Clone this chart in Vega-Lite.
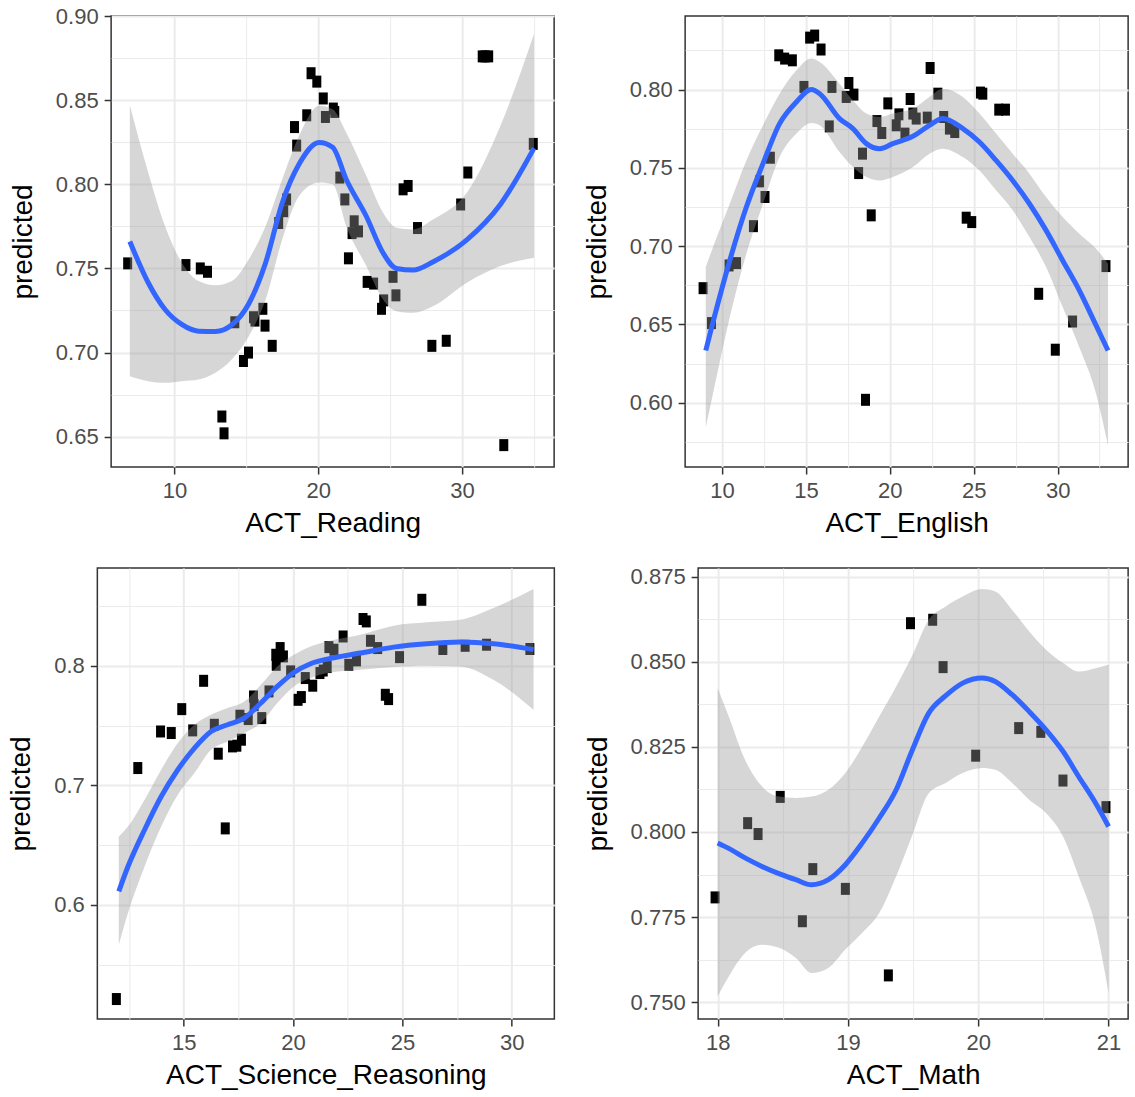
{
  "$schema": "https://vega.github.io/schema/vega-lite/v6.json",
  "padding": {"left": 7, "top": 4, "right": 5, "bottom": 5},
  "config": {
    "font": "Liberation Sans",
    "view": {"stroke": "#333333", "strokeWidth": 1.5},
    "axis": {
      "domain": false,
      "labelFont": "Liberation Sans", "labelFontSize": 22, "labelColor": "#4D4D4D", "labelPadding": 6,
      "labelOverlap": false, "labelFlush": false,
      "titleFont": "Liberation Sans", "titleFontSize": 28, "titleFontWeight": "normal", "titleColor": "#000000",
      "tickColor": "#333333", "tickWidth": 1.5, "tickSize": 7,
      "gridColor": "#EBEBEB"
    },
    "axisX": {"titlePadding": 8},
    "axisY": {"titlePadding": 18}
  },
  "datasets": {
    "reading_points": [
      {"score": 6.75, "predicted": 0.753}, {"score": 10.8, "predicted": 0.752}, {"score": 11.8, "predicted": 0.750},
      {"score": 12.3, "predicted": 0.748}, {"score": 13.3, "predicted": 0.662}, {"score": 13.45, "predicted": 0.652},
      {"score": 14.2, "predicted": 0.718}, {"score": 14.8, "predicted": 0.695}, {"score": 15.15, "predicted": 0.700},
      {"score": 15.5, "predicted": 0.721}, {"score": 15.6, "predicted": 0.719}, {"score": 16.15, "predicted": 0.726},
      {"score": 16.3, "predicted": 0.716}, {"score": 16.8, "predicted": 0.704}, {"score": 17.25, "predicted": 0.777},
      {"score": 17.6, "predicted": 0.784}, {"score": 17.8, "predicted": 0.791}, {"score": 18.35, "predicted": 0.834},
      {"score": 18.5, "predicted": 0.823}, {"score": 19.2, "predicted": 0.841}, {"score": 19.5, "predicted": 0.866},
      {"score": 19.9, "predicted": 0.861}, {"score": 20.35, "predicted": 0.851}, {"score": 20.5, "predicted": 0.840},
      {"score": 21.05, "predicted": 0.845}, {"score": 21.15, "predicted": 0.843}, {"score": 21.5, "predicted": 0.804},
      {"score": 21.85, "predicted": 0.791}, {"score": 22.1, "predicted": 0.756}, {"score": 22.35, "predicted": 0.771},
      {"score": 22.5, "predicted": 0.778}, {"score": 22.8, "predicted": 0.772}, {"score": 23.4, "predicted": 0.742},
      {"score": 23.85, "predicted": 0.741}, {"score": 24.4, "predicted": 0.726}, {"score": 24.55, "predicted": 0.731},
      {"score": 25.2, "predicted": 0.745}, {"score": 25.4, "predicted": 0.734}, {"score": 25.9, "predicted": 0.797},
      {"score": 26.25, "predicted": 0.799}, {"score": 26.9, "predicted": 0.774}, {"score": 27.9, "predicted": 0.704},
      {"score": 28.9, "predicted": 0.707}, {"score": 29.9, "predicted": 0.788}, {"score": 30.4, "predicted": 0.807},
      {"score": 31.4, "predicted": 0.876}, {"score": 31.6, "predicted": 0.876}, {"score": 31.85, "predicted": 0.876},
      {"score": 32.9, "predicted": 0.645}, {"score": 34.95, "predicted": 0.824}
    ],
    "reading_fit": [
      {"score": 6.9, "predicted": 0.766, "lower": 0.686, "upper": 0.847},
      {"score": 8.18, "predicted": 0.7415, "lower": 0.683, "upper": 0.807},
      {"score": 9.35, "predicted": 0.7256, "lower": 0.682, "upper": 0.775},
      {"score": 10.51, "predicted": 0.7167, "lower": 0.683, "upper": 0.7534},
      {"score": 11.68, "predicted": 0.7127, "lower": 0.684, "upper": 0.7425},
      {"score": 12.85, "predicted": 0.7125, "lower": 0.688, "upper": 0.740},
      {"score": 14.0, "predicted": 0.7165, "lower": 0.696, "upper": 0.7425},
      {"score": 15.17, "predicted": 0.729, "lower": 0.7097, "upper": 0.7554},
      {"score": 16.34, "predicted": 0.7534, "lower": 0.7315, "upper": 0.7752},
      {"score": 17.5, "predicted": 0.789, "lower": 0.7673, "upper": 0.803},
      {"score": 18.67, "predicted": 0.812, "lower": 0.793, "upper": 0.8288},
      {"score": 20.07, "predicted": 0.8248, "lower": 0.801, "upper": 0.8466},
      {"score": 21.0, "predicted": 0.822, "lower": 0.800, "upper": 0.8446},
      {"score": 21.94, "predicted": 0.803, "lower": 0.7752, "upper": 0.8308},
      {"score": 23.34, "predicted": 0.781, "lower": 0.7514, "upper": 0.805},
      {"score": 24.5, "predicted": 0.7593, "lower": 0.7315, "upper": 0.7832},
      {"score": 25.43, "predicted": 0.750, "lower": 0.7246, "upper": 0.7742},
      {"score": 26.6, "predicted": 0.749, "lower": 0.7236, "upper": 0.7732},
      {"score": 28.0, "predicted": 0.754, "lower": 0.7276, "upper": 0.7792},
      {"score": 30.33, "predicted": 0.767, "lower": 0.7415, "upper": 0.795},
      {"score": 32.66, "predicted": 0.788, "lower": 0.7514, "upper": 0.8347},
      {"score": 35.0, "predicted": 0.8215, "lower": 0.7564, "upper": 0.8893}
    ],
    "english_points": [
      {"score": 8.87, "predicted": 0.6732}, {"score": 9.37, "predicted": 0.6509}, {"score": 10.42, "predicted": 0.6877},
      {"score": 10.86, "predicted": 0.6892}, {"score": 11.87, "predicted": 0.7128}, {"score": 12.23, "predicted": 0.7414},
      {"score": 12.56, "predicted": 0.7314}, {"score": 12.88, "predicted": 0.7565}, {"score": 13.38, "predicted": 0.8219},
      {"score": 13.73, "predicted": 0.8198}, {"score": 14.19, "predicted": 0.8187}, {"score": 14.88, "predicted": 0.8017},
      {"score": 15.22, "predicted": 0.8332}, {"score": 15.52, "predicted": 0.8345}, {"score": 15.9, "predicted": 0.8256},
      {"score": 16.39, "predicted": 0.7765}, {"score": 16.55, "predicted": 0.8017}, {"score": 17.4, "predicted": 0.7953},
      {"score": 17.56, "predicted": 0.8042}, {"score": 17.86, "predicted": 0.7968}, {"score": 18.14, "predicted": 0.7467},
      {"score": 18.37, "predicted": 0.7591}, {"score": 18.55, "predicted": 0.6019}, {"score": 18.89, "predicted": 0.7197},
      {"score": 19.23, "predicted": 0.7799}, {"score": 19.52, "predicted": 0.7723}, {"score": 19.88, "predicted": 0.7912},
      {"score": 20.38, "predicted": 0.7772}, {"score": 20.54, "predicted": 0.7842}, {"score": 20.9, "predicted": 0.7719},
      {"score": 21.21, "predicted": 0.794}, {"score": 21.37, "predicted": 0.7847}, {"score": 21.57, "predicted": 0.7815},
      {"score": 22.23, "predicted": 0.7821}, {"score": 22.4, "predicted": 0.8138}, {"score": 22.86, "predicted": 0.7974},
      {"score": 23.21, "predicted": 0.7825}, {"score": 23.55, "predicted": 0.7751}, {"score": 23.87, "predicted": 0.7729},
      {"score": 24.55, "predicted": 0.7182}, {"score": 24.88, "predicted": 0.7154}, {"score": 25.4, "predicted": 0.7981},
      {"score": 25.54, "predicted": 0.7974}, {"score": 26.49, "predicted": 0.7872}, {"score": 26.89, "predicted": 0.7872},
      {"score": 28.87, "predicted": 0.6696}, {"score": 29.86, "predicted": 0.6339}, {"score": 30.89, "predicted": 0.6519},
      {"score": 32.88, "predicted": 0.6873}
    ],
    "english_fit": [
      {"score": 9.03, "predicted": 0.6334, "lower": 0.5844, "upper": 0.6867},
      {"score": 9.46, "predicted": 0.6515, "lower": 0.6058, "upper": 0.6994},
      {"score": 10.46, "predicted": 0.6909, "lower": 0.6547, "upper": 0.7271},
      {"score": 11.45, "predicted": 0.725, "lower": 0.6952, "upper": 0.7548},
      {"score": 12.44, "predicted": 0.7527, "lower": 0.7271, "upper": 0.7772},
      {"score": 13.43, "predicted": 0.7783, "lower": 0.7569, "upper": 0.7974},
      {"score": 14.43, "predicted": 0.7921, "lower": 0.7719, "upper": 0.8123},
      {"score": 15.32, "predicted": 0.800, "lower": 0.7787, "upper": 0.8198},
      {"score": 15.82, "predicted": 0.7974, "lower": 0.7772, "upper": 0.8176},
      {"score": 17.0, "predicted": 0.7815, "lower": 0.7601, "upper": 0.8038},
      {"score": 17.8, "predicted": 0.7751, "lower": 0.7505, "upper": 0.7932},
      {"score": 18.6, "predicted": 0.7655, "lower": 0.7442, "upper": 0.7847},
      {"score": 19.39, "predicted": 0.7623, "lower": 0.742, "upper": 0.7825},
      {"score": 20.18, "predicted": 0.7655, "lower": 0.7442, "upper": 0.7847},
      {"score": 21.37, "predicted": 0.7702, "lower": 0.7505, "upper": 0.7879},
      {"score": 22.36, "predicted": 0.7772, "lower": 0.7591, "upper": 0.7953},
      {"score": 23.15, "predicted": 0.7815, "lower": 0.7623, "upper": 0.8006},
      {"score": 24.35, "predicted": 0.7751, "lower": 0.7569, "upper": 0.7953},
      {"score": 25.34, "predicted": 0.7665, "lower": 0.7484, "upper": 0.7847},
      {"score": 26.33, "predicted": 0.7548, "lower": 0.7357, "upper": 0.7719},
      {"score": 27.32, "predicted": 0.742, "lower": 0.7229, "upper": 0.7591},
      {"score": 28.32, "predicted": 0.7271, "lower": 0.7058, "upper": 0.7463},
      {"score": 29.31, "predicted": 0.7101, "lower": 0.6867, "upper": 0.7314},
      {"score": 30.3, "predicted": 0.6909, "lower": 0.6611, "upper": 0.7186},
      {"score": 31.29, "predicted": 0.6718, "lower": 0.6355, "upper": 0.708},
      {"score": 32.29, "predicted": 0.6494, "lower": 0.6058, "upper": 0.6984},
      {"score": 33.0, "predicted": 0.6334, "lower": 0.5727, "upper": 0.6888}
    ],
    "science_points": [
      {"score": 11.92, "predicted": 0.5211}, {"score": 12.9, "predicted": 0.7144}, {"score": 13.94, "predicted": 0.745},
      {"score": 14.43, "predicted": 0.7437}, {"score": 14.91, "predicted": 0.7637}, {"score": 15.41, "predicted": 0.7459},
      {"score": 15.91, "predicted": 0.7874}, {"score": 16.4, "predicted": 0.7506}, {"score": 16.58, "predicted": 0.7264},
      {"score": 16.9, "predicted": 0.6639}, {"score": 17.23, "predicted": 0.7325}, {"score": 17.43, "predicted": 0.7331},
      {"score": 17.64, "predicted": 0.7381}, {"score": 17.57, "predicted": 0.7582}, {"score": 17.95, "predicted": 0.7554},
      {"score": 18.19, "predicted": 0.7743}, {"score": 18.22, "predicted": 0.767}, {"score": 18.57, "predicted": 0.7562},
      {"score": 18.9, "predicted": 0.7785}, {"score": 19.21, "predicted": 0.8092}, {"score": 19.41, "predicted": 0.8148},
      {"score": 19.23, "predicted": 0.8008}, {"score": 19.56, "predicted": 0.8078}, {"score": 19.89, "predicted": 0.7953},
      {"score": 20.23, "predicted": 0.7715}, {"score": 20.38, "predicted": 0.7738}, {"score": 20.56, "predicted": 0.7897},
      {"score": 20.9, "predicted": 0.7833}, {"score": 21.23, "predicted": 0.7939}, {"score": 21.38, "predicted": 0.796},
      {"score": 21.56, "predicted": 0.7989}, {"score": 21.64, "predicted": 0.8156}, {"score": 21.87, "predicted": 0.8134},
      {"score": 22.29, "predicted": 0.8245}, {"score": 22.55, "predicted": 0.8008}, {"score": 22.9, "predicted": 0.8045},
      {"score": 23.2, "predicted": 0.8391}, {"score": 23.35, "predicted": 0.8371}, {"score": 23.54, "predicted": 0.8209},
      {"score": 23.87, "predicted": 0.8148}, {"score": 24.22, "predicted": 0.7757}, {"score": 24.37, "predicted": 0.7721},
      {"score": 24.87, "predicted": 0.8072}, {"score": 25.89, "predicted": 0.8552}, {"score": 26.85, "predicted": 0.814},
      {"score": 27.87, "predicted": 0.8167}, {"score": 28.85, "predicted": 0.8176}, {"score": 30.83, "predicted": 0.814}
    ],
    "science_fit": [
      {"score": 12.03, "predicted": 0.6112, "lower": 0.5665, "upper": 0.6572},
      {"score": 12.45, "predicted": 0.632, "lower": 0.593, "upper": 0.6655},
      {"score": 13.21, "predicted": 0.6628, "lower": 0.632, "upper": 0.6879},
      {"score": 13.97, "predicted": 0.6906, "lower": 0.6655, "upper": 0.713},
      {"score": 14.73, "predicted": 0.713, "lower": 0.692, "upper": 0.7353},
      {"score": 15.49, "predicted": 0.7311, "lower": 0.7102, "upper": 0.7506},
      {"score": 16.25, "predicted": 0.745, "lower": 0.7297, "upper": 0.759},
      {"score": 17.0, "predicted": 0.7506, "lower": 0.7367, "upper": 0.7646},
      {"score": 17.77, "predicted": 0.7562, "lower": 0.7437, "upper": 0.7701},
      {"score": 18.53, "predicted": 0.7688, "lower": 0.752, "upper": 0.7841},
      {"score": 19.28, "predicted": 0.7827, "lower": 0.7688, "upper": 0.7994},
      {"score": 20.04, "predicted": 0.7944, "lower": 0.7827, "upper": 0.8092},
      {"score": 20.8, "predicted": 0.8017, "lower": 0.7897, "upper": 0.8162},
      {"score": 21.56, "predicted": 0.8056, "lower": 0.7939, "upper": 0.8203},
      {"score": 23.08, "predicted": 0.8106, "lower": 0.7967, "upper": 0.8259},
      {"score": 24.6, "predicted": 0.8156, "lower": 0.7989, "upper": 0.8335},
      {"score": 26.12, "predicted": 0.8184, "lower": 0.800, "upper": 0.8363},
      {"score": 27.64, "predicted": 0.8198, "lower": 0.7994, "upper": 0.8385},
      {"score": 29.16, "predicted": 0.8184, "lower": 0.7883, "upper": 0.8483},
      {"score": 31.0, "predicted": 0.8135, "lower": 0.7632, "upper": 0.8642}
    ],
    "math_points": [
      {"score": 17.98, "predicted": 0.7808}, {"score": 18.23, "predicted": 0.8026}, {"score": 18.31, "predicted": 0.7994},
      {"score": 18.48, "predicted": 0.8103}, {"score": 18.65, "predicted": 0.7738}, {"score": 18.73, "predicted": 0.7891},
      {"score": 18.98, "predicted": 0.7833}, {"score": 19.31, "predicted": 0.7579}, {"score": 19.48, "predicted": 0.8613},
      {"score": 19.65, "predicted": 0.8623}, {"score": 19.73, "predicted": 0.8484}, {"score": 19.98, "predicted": 0.8224},
      {"score": 20.31, "predicted": 0.8305}, {"score": 20.48, "predicted": 0.8294}, {"score": 20.65, "predicted": 0.8151},
      {"score": 20.98, "predicted": 0.8073}
    ],
    "math_fit": [
      {"score": 18.0, "predicted": 0.7968, "lower": 0.7518, "upper": 0.8423},
      {"score": 18.085, "predicted": 0.7952, "lower": 0.7576, "upper": 0.8339},
      {"score": 18.21, "predicted": 0.7924, "lower": 0.7645, "upper": 0.8212},
      {"score": 18.34, "predicted": 0.7899, "lower": 0.7669, "upper": 0.8134},
      {"score": 18.47, "predicted": 0.7878, "lower": 0.766, "upper": 0.8104},
      {"score": 18.6, "predicted": 0.786, "lower": 0.763, "upper": 0.81},
      {"score": 18.72, "predicted": 0.7845, "lower": 0.7586, "upper": 0.8104},
      {"score": 18.85, "predicted": 0.786, "lower": 0.7601, "upper": 0.8124},
      {"score": 18.98, "predicted": 0.7904, "lower": 0.7655, "upper": 0.8173},
      {"score": 19.11, "predicted": 0.7968, "lower": 0.7704, "upper": 0.8251},
      {"score": 19.24, "predicted": 0.8041, "lower": 0.7762, "upper": 0.8339},
      {"score": 19.37, "predicted": 0.8124, "lower": 0.787, "upper": 0.8427},
      {"score": 19.49, "predicted": 0.8237, "lower": 0.7987, "upper": 0.8515},
      {"score": 19.62, "predicted": 0.8349, "lower": 0.8114, "upper": 0.8623},
      {"score": 19.75, "predicted": 0.840, "lower": 0.8144, "upper": 0.8662},
      {"score": 19.88, "predicted": 0.8437, "lower": 0.8173, "upper": 0.8691},
      {"score": 20.03, "predicted": 0.8452, "lower": 0.8188, "upper": 0.8713},
      {"score": 20.13, "predicted": 0.8442, "lower": 0.8183, "upper": 0.8706},
      {"score": 20.26, "predicted": 0.8403, "lower": 0.8144, "upper": 0.8652},
      {"score": 20.39, "predicted": 0.8354, "lower": 0.8095, "upper": 0.8589},
      {"score": 20.52, "predicted": 0.830, "lower": 0.8056, "upper": 0.8535},
      {"score": 20.65, "predicted": 0.8237, "lower": 0.7987, "upper": 0.8496},
      {"score": 20.77, "predicted": 0.8163, "lower": 0.787, "upper": 0.8471},
      {"score": 20.9, "predicted": 0.8085, "lower": 0.7723, "upper": 0.8481},
      {"score": 21.0, "predicted": 0.8016, "lower": 0.7528, "upper": 0.8491}
    ]
  },
  "spacing": 13,
  "hconcat": [
    {
      "center": true,
      "spacing": 29,
      "vconcat": [
        {
          "width": 443, "height": 451,
          "encoding": {
            "x": {"field": "score", "type": "quantitative", "title": "ACT_Reading",
              "scale": {"domain": [5.6, 36.4], "nice": false, "zero": false},
              "axis": {"values": [10, 15, 20, 25, 30, 35], "format": ".0f",
                "labelExpr": "datum.value % 10 === 0 ? datum.label : ''",
                "gridWidth": {"condition": {"test": "datum.value % 10 === 0", "value": 2}, "value": 1},
                "tickOpacity": {"condition": {"test": "datum.value % 10 === 0", "value": 1}, "value": 0}}},
            "y": {"field": "predicted", "type": "quantitative", "title": "predicted",
              "scale": {"domain": [0.632, 0.9], "nice": false, "zero": false},
              "axis": {"values": [0.65, 0.675, 0.7, 0.725, 0.75, 0.775, 0.8, 0.825, 0.85, 0.875, 0.9], "format": ".2f",
                "labelExpr": "abs(datum.value * 20 - round(datum.value * 20)) < 0.001 ? datum.label : ''",
                "gridWidth": {"condition": {"test": "abs(datum.value * 20 - round(datum.value * 20)) < 0.001", "value": 2}, "value": 1},
                "tickOpacity": {"condition": {"test": "abs(datum.value * 20 - round(datum.value * 20)) < 0.001", "value": 1}, "value": 0}}}
          },
          "layer": [
            {"data": {"name": "reading_points"},
              "mark": {"type": "point", "shape": "M-0.75,-1H0.75V1H-0.75Z", "filled": true, "size": 144, "color": "#000000", "opacity": 1}},
            {"data": {"name": "reading_fit"},
              "mark": {"type": "area", "color": "#999999", "opacity": 0.4, "interpolate": "monotone"},
              "encoding": {"y": {"field": "lower", "type": "quantitative", "title": "predicted"}, "y2": {"field": "upper"}}},
            {"data": {"name": "reading_fit"},
              "mark": {"type": "line", "color": "#3366FF", "strokeWidth": 5, "strokeCap": "butt", "interpolate": "monotone"}}
          ]
        },
        {
          "width": 457, "height": 451,
          "encoding": {
            "x": {"field": "score", "type": "quantitative", "title": "ACT_Science_Reasoning",
              "scale": {"domain": [11.05, 31.95], "nice": false, "zero": false},
              "axis": {"values": [12.5, 15, 17.5, 20, 22.5, 25, 27.5, 30, 31.95], "format": ".0f",
                "labelExpr": "datum.value % 5 === 0 ? datum.label : (datum.value > 31 ? '00' : '')",
                "labelAlign": {"condition": {"test": "datum.value > 31", "value": "left"}, "value": "center"},
                "labelFontSize": {"condition": {"test": "datum.value > 31", "value": 12.2}, "value": 22},
                "labelOpacity": {"condition": {"test": "datum.value > 31", "value": 0}, "value": 1},
                "gridOpacity": {"condition": {"test": "datum.value > 31", "value": 0}, "value": 1},
                "gridWidth": {"condition": {"test": "datum.value % 5 === 0", "value": 2}, "value": 1},
                "tickOpacity": {"condition": {"test": "datum.value % 5 === 0", "value": 1}, "value": 0}}},
            "y": {"field": "predicted", "type": "quantitative", "title": "predicted",
              "scale": {"domain": [0.5044, 0.8818], "nice": false, "zero": false},
              "axis": {"values": [0.55, 0.6, 0.65, 0.7, 0.75, 0.8, 0.85], "format": ".1f",
                "labelExpr": "abs(datum.value * 10 - round(datum.value * 10)) < 0.001 ? datum.label : ''",
                "gridWidth": {"condition": {"test": "abs(datum.value * 10 - round(datum.value * 10)) < 0.001", "value": 2}, "value": 1},
                "tickOpacity": {"condition": {"test": "abs(datum.value * 10 - round(datum.value * 10)) < 0.001", "value": 1}, "value": 0}}}
          },
          "layer": [
            {"data": {"name": "science_points"},
              "mark": {"type": "point", "shape": "M-0.75,-1H0.75V1H-0.75Z", "filled": true, "size": 144, "color": "#000000", "opacity": 1}},
            {"data": {"name": "science_fit"},
              "mark": {"type": "area", "color": "#999999", "opacity": 0.4, "interpolate": "monotone"},
              "encoding": {"y": {"field": "lower", "type": "quantitative", "title": "predicted"}, "y2": {"field": "upper"}}},
            {"data": {"name": "science_fit"},
              "mark": {"type": "line", "color": "#3366FF", "strokeWidth": 5, "strokeCap": "butt", "interpolate": "monotone"}}
          ]
        }
      ]
    },
    {
      "center": true,
      "spacing": 26,
      "vconcat": [
        {
          "width": 443, "height": 451,
          "encoding": {
            "x": {"field": "score", "type": "quantitative", "title": "ACT_English",
              "scale": {"domain": [7.8, 34.2], "nice": false, "zero": false},
              "axis": {"values": [10, 12.5, 15, 17.5, 20, 22.5, 25, 27.5, 30, 32.5, 34.2], "format": ".0f",
                "labelExpr": "datum.value % 5 === 0 ? datum.label : (datum.value > 34 ? '00' : '')",
                "labelAlign": {"condition": {"test": "datum.value > 34", "value": "left"}, "value": "center"},
                "labelFontSize": {"condition": {"test": "datum.value > 34", "value": 11.7}, "value": 22},
                "labelOpacity": {"condition": {"test": "datum.value > 34", "value": 0}, "value": 1},
                "gridOpacity": {"condition": {"test": "datum.value > 34", "value": 0}, "value": 1},
                "gridWidth": {"condition": {"test": "datum.value % 5 === 0", "value": 2}, "value": 1},
                "tickOpacity": {"condition": {"test": "datum.value % 5 === 0", "value": 1}, "value": 0}}},
            "y": {"field": "predicted", "type": "quantitative", "title": "predicted",
              "scale": {"domain": [0.559, 0.847], "nice": false, "zero": false},
              "axis": {"values": [0.575, 0.6, 0.625, 0.65, 0.675, 0.7, 0.725, 0.75, 0.775, 0.8, 0.825], "format": ".2f",
                "labelExpr": "abs(datum.value * 20 - round(datum.value * 20)) < 0.001 ? datum.label : ''",
                "gridWidth": {"condition": {"test": "abs(datum.value * 20 - round(datum.value * 20)) < 0.001", "value": 2}, "value": 1},
                "tickOpacity": {"condition": {"test": "abs(datum.value * 20 - round(datum.value * 20)) < 0.001", "value": 1}, "value": 0}}}
          },
          "layer": [
            {"data": {"name": "english_points"},
              "mark": {"type": "point", "shape": "M-0.75,-1H0.75V1H-0.75Z", "filled": true, "size": 144, "color": "#000000", "opacity": 1}},
            {"data": {"name": "english_fit"},
              "mark": {"type": "area", "color": "#999999", "opacity": 0.4, "interpolate": "monotone"},
              "encoding": {"y": {"field": "lower", "type": "quantitative", "title": "predicted"}, "y2": {"field": "upper"}}},
            {"data": {"name": "english_fit"},
              "mark": {"type": "line", "color": "#3366FF", "strokeWidth": 5, "strokeCap": "butt", "interpolate": "monotone"}}
          ]
        },
        {
          "width": 430, "height": 451,
          "encoding": {
            "x": {"field": "score", "type": "quantitative", "title": "ACT_Math",
              "scale": {"domain": [17.85, 21.15], "nice": false, "zero": false},
              "axis": {"values": [18, 18.5, 19, 19.5, 20, 20.5, 21], "format": ".0f",
                "labelExpr": "datum.value % 1 === 0 ? datum.label : ''",
                "gridWidth": {"condition": {"test": "datum.value % 1 === 0", "value": 2}, "value": 1},
                "tickOpacity": {"condition": {"test": "datum.value % 1 === 0", "value": 1}, "value": 0}}},
            "y": {"field": "predicted", "type": "quantitative", "title": "predicted",
              "scale": {"domain": [0.7451, 0.8775], "nice": false, "zero": false},
              "axis": {"values": [0.75, 0.7625, 0.775, 0.7875, 0.8, 0.8125, 0.825, 0.8375, 0.85, 0.8625, 0.875], "format": ".3f",
                "labelExpr": "abs(datum.value * 40 - round(datum.value * 40)) < 0.001 ? datum.label : ''",
                "gridWidth": {"condition": {"test": "abs(datum.value * 40 - round(datum.value * 40)) < 0.001", "value": 2}, "value": 1},
                "tickOpacity": {"condition": {"test": "abs(datum.value * 40 - round(datum.value * 40)) < 0.001", "value": 1}, "value": 0}}}
          },
          "layer": [
            {"data": {"name": "math_points"},
              "mark": {"type": "point", "shape": "M-0.75,-1H0.75V1H-0.75Z", "filled": true, "size": 144, "color": "#000000", "opacity": 1}},
            {"data": {"name": "math_fit"},
              "mark": {"type": "area", "color": "#999999", "opacity": 0.4, "interpolate": "monotone"},
              "encoding": {"y": {"field": "lower", "type": "quantitative", "title": "predicted"}, "y2": {"field": "upper"}}},
            {"data": {"name": "math_fit"},
              "mark": {"type": "line", "color": "#3366FF", "strokeWidth": 5, "strokeCap": "butt", "interpolate": "monotone"}}
          ]
        }
      ]
    }
  ]
}
